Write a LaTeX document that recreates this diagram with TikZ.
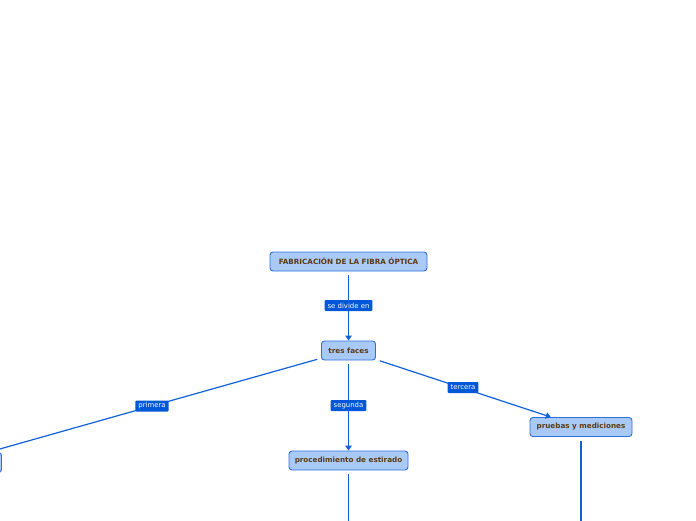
\documentclass[tikz,border=0pt]{standalone}
\usepackage{fontspec}
\setmainfont{DejaVu Sans}
\usetikzlibrary{arrows.meta}
\definecolor{boxfill}{HTML}{A9C9F7}
\definecolor{boxdraw}{HTML}{2F6FDB}
\definecolor{linec}{HTML}{1060D6}
\definecolor{labfill}{HTML}{0057D8}
\definecolor{txt}{HTML}{5C3A12}
\tikzset{
  topic/.style={draw=boxdraw, fill=boxfill, line width=0.9pt, rounded corners=3pt,
    text=txt, font=\fontsize{7.2}{9}\selectfont\bfseries, minimum height=19pt, inner sep=0pt, inner xsep=5.5pt},
  lab/.style={fill=labfill, text=white, font=\fontsize{6.9}{8}\selectfont, rounded corners=1pt,
    minimum height=11pt, inner sep=0pt, inner xsep=3pt},
  conn/.style={draw=linec, line width=1.2pt, shorten <=4pt},
  arr/.style={-{Triangle[width=6.5pt,length=5pt]}}
}
\begin{document}
\begin{tikzpicture}[x=1pt,y=-1pt]
\useasboundingbox (0,0) rectangle (696,520);
\node[topic, minimum width=157pt] (root) at (348.5,261.5) {FABRICACIÓN DE LA FIBRA ÓPTICA};
\node[topic, minimum width=54pt] (tf) at (348.5,350.5) {tres faces};
\node[topic, minimum width=119pt] (proc) at (348.5,460.5) {procedimiento de estirado};
\node[topic, minimum width=102pt] (pr) at (581,427) {pruebas y mediciones};
\node[topic, minimum width=99pt, minimum height=20pt] (left) at (-48,462.5) {};
\coordinate (pdown) at (348.5,530);
\coordinate (prdown) at (581,530);
\draw[conn, arr] (root) -- (tf);
\draw[conn, arr] (tf) -- (left);
\draw[conn, arr] (tf) -- (proc);
\draw[conn, arr] (tf) -- (pr);
\draw[conn] (proc) -- (pdown);
\draw[conn] (pr) -- (prdown);
\node[lab] (l1) at (348.5,305.5) {se divide en};
\node[lab] (l2) at (152,406) {primera};
\node[lab] (l3) at (348.5,405.5) {segunda};
\node[lab] (l4) at (463,387.5) {tercera};
\end{tikzpicture}
\end{document}
